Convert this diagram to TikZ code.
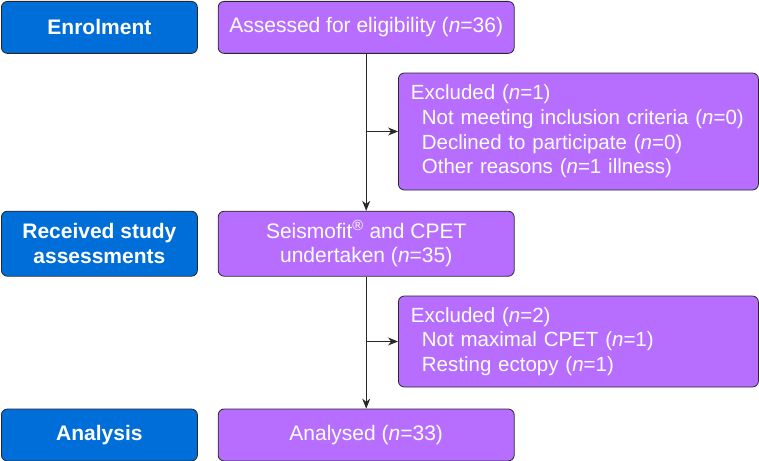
\documentclass[tikz,border=0pt]{standalone}
\usepackage{fontspec}
\setmainfont{Liberation Sans}
\usetikzlibrary{arrows.meta,positioning}
\definecolor{PhaseBlue}{RGB}{0,110,217}
\definecolor{BoxPurple}{RGB}{183,110,255}
\definecolor{EdgeGrey}{RGB}{40,40,40}
\tikzset{
  phase/.style={draw=EdgeGrey,fill=PhaseBlue,rounded corners=6pt,line width=0.8pt,
    text=white,font=\bfseries\fontsize{21}{24.6}\selectfont,
    minimum width=196pt,align=center,inner sep=0pt},
  process/.style={draw=EdgeGrey,fill=BoxPurple,rounded corners=6pt,line width=0.8pt,
    text=white,font=\fontsize{21}{24.6}\selectfont,
    minimum width=296pt,align=center,inner sep=0pt},
  exclbox/.style={process,align=left,text width=341pt,inner xsep=9.5pt,
    minimum width=360pt,font=\fontsize{20.5}{24.6}\selectfont},
  arrow/.style={-{Stealth[length=10pt,width=8pt]},line width=0.8pt,EdgeGrey}
}
\begin{document}
\begin{tikzpicture}[x=1pt,y=1pt]
\useasboundingbox (0,0) rectangle (759,-460);

\node[phase,minimum height=52pt,anchor=north west] (enrol) at (1,-1) {Enrolment};
\node[process,minimum height=52pt,right=20pt of enrol] (assess)
  {Assessed for eligibility (\textit{n}=36)};

\node[phase,minimum height=65pt,below=157pt of enrol] (receive)
  {Received study\\assessments};
\node[process,minimum height=65pt,right=20pt of receive] (seismo)
  {Seismofit\textsuperscript{\textregistered} and CPET\\undertaken (\textit{n}=35)};

\node[phase,minimum height=52pt,below=132pt of receive] (analysis) {Analysis};
\node[process,minimum height=52pt,right=20pt of analysis] (analysed)
  {Analysed (\textit{n}=33)};

\node[exclbox,minimum height=117pt,anchor=west] (excl1) at (398,-131.5)
  {\hspace*{3pt}Excluded (\textit{n}=1)\\
   \hspace*{14pt}Not meeting inclusion criteria (\textit{n}=0)\\
   \hspace*{14pt}Declined to participate (\textit{n}=0)\\
   \hspace*{14pt}Other reasons (\textit{n}=1 illness)};
\node[exclbox,minimum height=91pt,anchor=west] (excl2) at (398,-341.5)
  {\hspace*{3pt}Excluded (\textit{n}=2)\\
   \hspace*{14pt}Not maximal CPET (\textit{n}=1)\\
   \hspace*{14pt}Resting ectopy (\textit{n}=1)};

\coordinate (split1) at (assess.south |- excl1.west);
\coordinate (split2) at (seismo.south |- excl2.west);

\draw[arrow] (assess) -- (seismo);
\draw[arrow] (seismo) -- (analysed);
\draw[arrow] (split1) -- (excl1.west);
\draw[arrow] (split2) -- (excl2.west);

\end{tikzpicture}
\end{document}
